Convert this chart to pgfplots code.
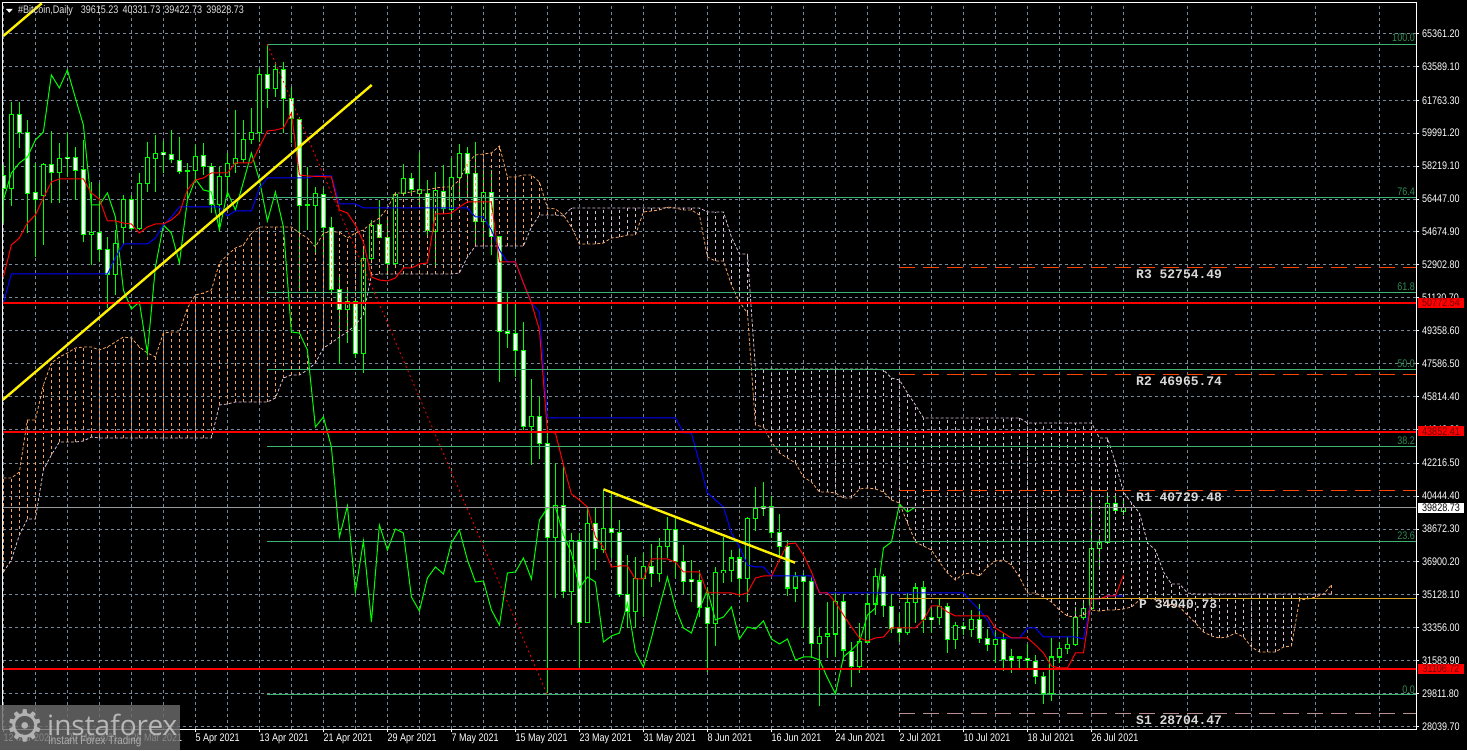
\documentclass[border=0pt]{standalone}
\usepackage{fontspec}
\usepackage{pgfplots}
\usepackage{pgfplotstable}
\pgfplotsset{compat=1.18}
\setmainfont[FakeStretch=0.82]{Liberation Sans}
\newfontfamily\pivotfont{Liberation Mono}
\newfontfamily\logofont{Open Sans}
\newfontfamily\symfont{DejaVu Sans}

\definecolor{lime}{RGB}{0,255,0}
\definecolor{gridc}{RGB}{119,136,153}
\definecolor{senkA}{RGB}{244,164,96}
\definecolor{senkB}{RGB}{216,191,216}
\definecolor{fibc}{RGB}{60,179,113}
\definecolor{fibt}{RGB}{46,139,87}
\definecolor{pivr}{RGB}{255,69,0}
\definecolor{pivp}{RGB}{218,165,32}
\definecolor{pivs}{RGB}{188,143,143}
\definecolor{tagt}{RGB}{110,0,0}

% candles: day open high low close
\pgfplotstableread{
d o h l c
1 57020 61689 56086 61007
5 56661 58367 53968 58313
7 57882 59445 56248 58636
11 54542 57379 52890 54650
14 52388 54775 51275 54057
15 54901 56661 53968 56427
17 54865 57828 54775 57289
18 57289 59534 56841 58690
19 58636 59893 56841 58906
23 57936 58403 56392 57990
24 57972 59354 57469 58726
27 56158 58187 54775 57667
28 57667 58906 56571 58331
29 58367 61240 57828 58636
30 58582 60702 58367 59660
31 59660 61330 59408 60037
32 60037 63484 59534 63162
34 62407 63844 61958 63431
38 56122 58187 54775 56158
39 56122 57110 53429 56751
43 50501 51543 48670 50915
45 48131 53788 47090 53249
46 53249 55314 53160 55045
49 52980 56841 52800 56697
50 56751 58331 56697 57559
52 56751 58942 56032 56948
54 54722 57882 52890 56894
56 55907 58636 55493 57595
57 57595 59390 56392 58906
60 55242 58008 54147 56787
66 44180 46749 42116 44718
69 38237 42224 34952 39923
71 35275 38453 33497 38038
73 33658 39800 33605 38938
75 37538 40769 37376 38722
79 34198 37160 33335 35975
80 35975 37376 33927 36622
82 36245 38184 35813 37699
83 37699 39315 37106 38668
89 33551 36621 32366 36298
90 36298 38237 35759 36406
91 36406 37537 35813 37106
93 35975 39315 34736 39207
94 39207 40931 38561 39746
99 35490 36352 34736 36083
102 32527 33335 29134 32851
103 32851 34736 31719 33012
104 33012 35275 31773 34736
107 31235 33605 30911 32581
108 32581 35221 32527 34628
109 34628 36567 34036 36083
113 33066 35221 32958 34682
114 34682 35760 33605 35490
117 33874 34951 33497 34467
119 32742 33659 32204 33443
121 33228 34305 32850 33767
124 32473 33120 31450 32742
127 31719 31826 31180 31773
131 29780 32796 29402 31773
132 31773 32581 31450 32204
133 32204 32850 31935 32420
134 32420 34467 32366 33874
135 33874 34736 33767 34359
136 34359 40392 34359 37591
137 37591 38345 36460 37968
138 37968 40662 37914 40016
140 39615.23 40331.73 39422.73 39828.73
}\candlesup

\pgfplotstableread{
d o h l c
0 57700 58280 55130 57020
2 61007 61689 59211 60037
3 60037 60702 54596 56751
4 56805 58367 53339 56427
6 58313 60109 56212 57882
8 58690 59983 57648 58618
9 58690 59265 56392 57990
10 58026 59624 54147 54542
12 54632 57290 53070 53734
13 53734 54416 50555 52388
16 56427 56661 54776 54865
20 58942 59570 57828 58834
21 58852 60163 58367 58582
22 58511 59804 57774 57936
25 58780 59445 57739 58205
26 58187 58367 55673 56158
33 63162 64742 61330 62407
35 63431 63844 59983 61868
36 61850 62461 59445 60791
37 60737 60881 51544 56122
40 56697 57020 53339 54901
41 54901 55493 51364 51579
42 51579 52351 47540 50501
44 50915 51005 47862 48131
47 55081 56392 54327 54381
48 54381 55314 52351 52980
51 57559 57864 56751 56966
53 56751 57469 54416 54722
55 56841 58277 55673 55907
58 58906 59265 56661 57828
59 57828 59534 53968 55242
61 56787 58008 53429 54452
62 54415 54415 46603 49297
63 49319 51452 48419 49211
64 49173 50789 46857 48258
65 48258 49820 44002 44163
67 44718 45780 42439 43301
68 43301 43840 29833 38237
70 39923 42116 34952 35275
72 38038 38453 31234 33658
74 38938 39800 36460 37591
76 38684 40662 37106 38453
77 38453 39153 35006 35113
78 35113 37268 33335 34198
81 36622 37861 35544 36245
84 38668 39261 36029 36944
85 36944 37807 35167 35814
86 35921 36999 34736 35814
87 35867 36459 33927 34413
88 34413 35544 30965 33551
92 37106 37699 35006 35975
95 39854 41200 39368 39746
96 39854 40446 38184 38453
97 38453 39477 37214 37699
98 37699 38076 35059 35490
100 36083 36298 33335 35814
101 35814 36083 31719 32527
105 34736 35167 31610 32150
106 32096 32581 30157 31235
110 36083 36244 33927 34521
111 34467 35167 33066 33335
112 33335 34144 32581 33066
115 35490 35868 33066 33767
116 33874 34413 33066 33767
118 34467 34682 31988 32742
120 33390 33659 32957 33282
122 33767 34628 32527 32796
123 32796 33281 32096 32473
125 32742 33066 31019 31665
126 31773 32205 30911 31611
128 31719 32473 31180 31611
129 31557 31880 30318 30696
130 30696 30965 29241 29780
139 40016 40500 39581 39638
}\candlesdown

% ichimoku cloud: day span A, span B
\pgfplotstableread{
d A B
0 41416 36352
1 41416 36999
2 41739 38346
3 44541 39207
4 44541 39207
5 46426 41847
6 47611 42655
7 47934 43355
8 48150 43355
9 48419 43355
10 48473 43409
11 48473 43625
12 48311 43571
13 48473 43571
14 48742 43571
15 49012 43571
16 48958 43571
17 48473 43571
18 48150 43571
19 47934 43571
20 49227 43571
21 49281 43571
22 49281 43571
23 50574 43571
24 51274 43571
25 51382 43571
26 51544 43571
27 52998 45349
28 53429 45403
29 53806 45510
30 53968 45510
31 54614 45510
32 54938 45510
33 54938 45510
34 54938 45726
35 54938 46803
36 54938 46965
37 54614 46965
38 54345 47234
39 53860 47611
40 54614 48419
41 54668 48689
42 54668 49012
43 54345 49281
44 54614 49658
45 54776 50197
46 55153 52352
47 55422 52406
48 55961 52406
49 56769 52406
50 56769 52406
51 56823 52406
52 56931 52406
53 56931 52406
54 57038 52406
55 57092 52406
56 57092 52406
57 57469 52459
58 58385 53321
59 58816 53914
60 58870 53914
61 58924 53914
62 59301 53914
63 57631 53914
64 57631 53914
65 57739 53914
66 57739 54938
67 57362 55584
68 55961 55584
69 55907 55584
70 55584 55530
71 54938 55961
72 54022 55961
73 54022 55961
74 54022 55961
75 54076 55961
76 54345 55961
77 54399 55961
78 54507 55961
79 54507 55961
80 55746 55961
81 55799 55961
82 55853 55961
83 56015 55961
84 55961 55961
85 55853 55961
86 55853 55961
87 55584 55961
88 53321 55746
89 53106 55746
90 53106 55746
91 51813 54399
92 50897 53483
93 50305 53483
94 44271 47288
95 44164 47288
96 43355 47288
97 42763 47288
98 42494 47288
99 42224 47288
100 41470 47288
101 41201 47288
102 40662 47288
103 40662 47288
104 40608 47288
105 40339 47288
106 40339 47288
107 40824 47288
108 40877 47288
109 40824 47288
110 40662 47234
111 40231 46803
112 40069 46695
113 38992 45995
114 37968 45349
115 37753 44648
116 37537 44648
117 36891 44648
118 36298 44648
119 35921 44648
120 36245 44648
121 36298 44648
122 36137 44648
123 36622 44648
124 36945 44648
125 36999 44648
126 36729 44648
127 36083 44648
128 35221 44379
129 35221 44379
130 35006 44379
131 34736 44379
132 34305 44379
133 33982 44379
134 33928 44379
135 34036 44379
136 34305 44379
137 34251 43571
138 34305 43571
139 34305 42224
140 34359 40662
141 34467 40069
142 34844 39531
143 34952 37915
144 34844 37537
145 34736 36352
146 34575 35706
147 34467 35706
148 34036 35221
149 33605 35167
150 33120 35167
151 32905 35167
152 32797 35167
153 32851 35167
154 33066 35167
155 32851 35167
156 32312 35167
157 32043 35167
158 32043 35167
159 32043 35167
160 32312 35167
161 32366 35167
162 34844 35167
163 34898 35167
164 35006 35167
165 35167 35167
166 35652 35167
}\cloud

\pgfplotstableread{
d k
0 50843
1 52406
13 52406
14 53268
15 54022
18 54022
19 54345
20 55045
21 55476
22 56015
27 56015
28 55530
29 55799
31 55799
32 57038
33 57577
38 57577
39 57685
41 57685
42 56177
44 56177
45 55961
58 55961
59 55476
60 55476
61 54776
62 53698
63 53052
64 53052
65 51921
66 50843
67 50359
68 44648
84 44648
85 43840
86 43840
87 42224
88 40608
89 40231
90 39854
91 38453
92 37699
93 36729
94 36622
95 36622
96 36137
101 36137
102 35221
120 35221
121 34736
122 34305
123 33766
124 32797
127 32797
128 33336
129 33336
130 32851
134 32851
135 32743
136 34898
137 34898
138 35059
140 35059
}\kijun

\pgfplotstableread{
d t
0 52244
1 53968
2 54345
3 55153
4 55584
5 56500
6 57362
7 57523
10 57523
11 56769
12 56446
13 55261
14 55261
15 55153
16 55099
17 54614
18 54938
19 55099
20 55099
21 55315
22 55692
23 56931
24 57469
25 57577
26 57846
28 57846
29 58385
31 58385
32 59247
33 60109
34 60163
35 60271
36 61079
37 57739
38 57685
41 57631
42 55853
43 55692
44 55045
45 54129
46 52244
47 52082
48 52029
49 52190
50 52729
51 52729
52 52944
53 52998
54 55638
55 55638
56 55692
57 56015
58 56284
61 56284
62 53052
64 53052
65 51921
66 50843
67 49389
68 43894
69 43840
70 42116
71 40554
72 40231
73 39854
74 38237
75 37699
76 36622
77 36676
78 36676
79 35975
80 35975
81 37053
83 37053
84 36891
85 36352
87 36352
88 35221
91 35221
92 35113
93 35221
94 36029
95 36137
96 36137
97 36999
98 37861
99 37915
100 37268
101 36352
102 35221
103 35221
104 34736
105 34036
106 33390
107 32797
108 32635
109 32797
110 32851
111 33336
114 33336
115 33766
116 34521
117 34521
118 34198
119 33982
123 33982
124 33336
125 33066
126 32797
128 32797
129 32420
130 31989
131 31289
132 31181
133 31181
134 31989
135 31989
136 34898
137 34898
138 35059
139 35059
140 36191
}\tenkan

\pgfplotstableread{
d s
0 56392
1 57846
2 58385
3 58708
4 59624
5 60055
6 63126
7 62425
8 63395
9 61887
10 60432
11 56123
12 56123
13 56769
14 55476
15 51544
16 50520
17 50897
18 48150
19 52783
20 55045
21 54614
22 52998
23 56392
24 57523
25 56931
26 56823
27 54776
28 56823
29 55853
30 57362
31 58924
32 57469
33 55261
34 56823
35 54938
36 49281
37 49227
38 48311
39 44164
40 44702
41 43086
42 38237
43 39908
44 35275
45 38022
46 33659
47 38884
48 37537
49 38669
50 38453
51 35006
52 34251
53 36029
54 36622
55 36245
56 37915
57 38615
58 36999
59 35814
60 35868
61 34305
62 33497
63 36298
64 36352
65 37107
66 35975
67 39154
68 39800
69 39854
70 38346
71 37376
72 35490
73 36083
74 35814
75 32581
76 32905
77 33066
78 34682
79 32043
80 31235
81 32797
82 34467
83 36083
84 34413
85 33336
86 33066
87 34359
88 35383
89 33766
90 33928
91 34467
92 32743
93 33390
94 33282
95 33713
96 32743
97 32474
98 32743
99 31612
100 31773
101 31773
102 31612
103 30642
104 29780
105 31773
106 32150
107 32581
108 34036
109 34413
110 37645
111 37968
112 40016
113 39585
114 39854
}\chikou

\pgfplotsset{
  segs/.style={draw=none, no markers, forget plot,
    error bars/y explicit, error bars/error mark=none},
}
% wick, outline, inner body of one candle table
\newcommand{\candles}[2]{%
  \addplot[segs, error bars/y dir=plus,
    error bars/error bar style={draw=lime, solid, line width=1pt}]
    table[x=d, y=l, y error expr={\thisrow{h}-\thisrow{l}}] {#1};
  \addplot[segs, error bars/y dir=both,
    error bars/error bar style={draw=lime, solid, line width=5pt}]
    table[x=d, y expr={(\thisrow{o}+\thisrow{c})/2},
      y error expr={abs(\thisrow{o}-\thisrow{c})/2+27}] {#1};
  \addplot[segs, error bars/y dir=both,
    error bars/error bar style={draw=#2, solid, line width=3pt}]
    table[x=d, y expr={(\thisrow{o}+\thisrow{c})/2},
      y error expr={max(abs(\thisrow{o}-\thisrow{c})/2-27,0)}] {#1};
}

\begin{document}
\begin{tikzpicture}[x=1pt,y=1pt,font=\fontsize{11}{12}\selectfont]
\useasboundingbox (0,0) rectangle (1467,750);
\fill[black] (0,0) rectangle (1467,750);
\begin{axis}[
    at={(2.5pt,20.7pt)}, anchor=south west,
    scale only axis, width=1413.8pt, height=726.8pt,
    xmin=-0.11, xmax=176.6, ymin=27878, ymax=67031,
    axis line style={white, line width=1pt},
    clip=true,
    xtick={0,8,...,136},
    xticklabels={12 Mar 2021,20 Mar 2021,28 Mar 2021,5 Apr 2021,13 Apr 2021,21 Apr 2021,29 Apr 2021,7 May 2021,15 May 2021,23 May 2021,31 May 2021,8 Jun 2021,16 Jun 2021,24 Jun 2021,2 Jul 2021,10 Jul 2021,18 Jul 2021,26 Jul 2021},
    minor xtick={4,12,...,172},
    ytick={65361.20,63589.10,61763.30,59991.20,58219.10,56447.00,54674.90,52902.80,51130.70,49358.60,47586.50,45814.40,44042.30,42216.50,40444.40,38672.30,36900.20,35128.10,33356.00,31583.90,29811.80,28039.70},
    yticklabels={65361.20,63589.10,61763.30,59991.20,58219.10,56447.00,54674.90,52902.80,51130.70,49358.60,47586.50,45814.40,44042.30,42216.50,40444.40,38672.30,36900.20,35128.10,33356.00,31583.90,29811.80,28039.70},
    xtick pos=bottom, ytick pos=right, yticklabel pos=right,
    tick align=outside, major tick length=3pt, minor tick length=0pt,
    tick style={white, line width=0.8pt},
    ticklabel style={white, font=\fontsize{11}{12}\selectfont},
    xticklabel style={anchor=north west, inner sep=0pt, yshift=-1.5pt},
    yticklabel style={anchor=west, inner sep=0pt, xshift=2.5pt},
    grid=major, xminorgrids=true,
    grid style={gridc, line width=0.8pt, dash pattern=on 3pt off 3pt},
    minor grid style={gridc, line width=0.8pt, dash pattern=on 3pt off 3pt},
]
\candles{\candlesup}{black}
\candles{\candlesdown}{white}

% cloud
\addplot[segs, error bars/y dir=plus,
  error bars/error bar style={draw=senkA, line width=0.8pt, dash pattern=on 3pt off 3pt}]
  table[x=d, y=B, y error expr={max(\thisrow{A}-\thisrow{B},0)}] {\cloud};
\addplot[segs, error bars/y dir=plus,
  error bars/error bar style={draw=senkB, line width=0.8pt, dash pattern=on 3pt off 3pt}]
  table[x=d, y=A, y error expr={max(\thisrow{B}-\thisrow{A},0)}] {\cloud};
\addplot[senkA, line width=0.8pt, dash pattern=on 3pt off 2pt, no markers] table[x=d, y=A] {\cloud};
\addplot[senkB, line width=0.8pt, dash pattern=on 3pt off 2pt, no markers] table[x=d, y=B] {\cloud};

% ichimoku lines
\addplot[lime, line width=1pt, no markers] table[x=d, y=s] {\chikou};
\addplot[blue, line width=1pt, no markers] table[x=d, y=k] {\kijun};
\addplot[red, line width=1pt, no markers] table[x=d, y=t] {\tenkan};

% fibonacci levels and their base line
\addplot[fibc, line width=1pt, no markers, forget plot, unbounded coords=jump] coordinates {
  (33,64780) (176.6,64780) (nan,nan)
  (33,56516) (176.6,56516) (nan,nan)
  (33,51398) (176.6,51398) (nan,nan)
  (33,47272) (176.6,47272) (nan,nan)
  (33,43102) (176.6,43102) (nan,nan)
  (33,38006) (176.6,38006) (nan,nan)
  (33,29726) (176.6,29726)
};
\addplot[red, line width=0.8pt, dash pattern=on 2pt off 3pt, no markers] coordinates {(33,64780) (68,29726)};

% pivot levels
\addplot[pivr, line width=1pt, dash pattern=on 16pt off 8pt, no markers, unbounded coords=jump] coordinates {
  (112,52754.49) (176.6,52754.49) (nan,nan)
  (112,46965.74) (176.6,46965.74) (nan,nan)
  (112,40729.48) (176.6,40729.48)
};
\addplot[pivp, line width=1pt, no markers] coordinates {(112,34940.73) (176.6,34940.73)};
\addplot[pivs, line width=1pt, dash pattern=on 16pt off 8pt, no markers] coordinates {(112,28704.47) (176.6,28704.47)};

% current price
\addplot[gray!80!white, line width=1pt, no markers] coordinates {(-0.11,39828.73) (176.6,39828.73)};

% horizontal levels
\addplot[red, line width=2.2pt, no markers, unbounded coords=jump] coordinates {
  (-0.11,50859) (176.6,50859) (nan,nan)
  (-0.11,43910) (176.6,43910) (nan,nan)
  (-0.11,31143) (176.6,31143)
};

% trend lines
\addplot[yellow, line width=2.4pt, no markers, unbounded coords=jump] coordinates {
  (-0.01,65227) (4.8,66988) (nan,nan)
  (-0.09,45618) (46.04,62587) (nan,nan)
  (75,40807) (98.95,36853)
};
\end{axis}

% header
\fill[white] (6,741) -- (12.7,741) -- (9.3,737.3) -- cycle;
\node[anchor=west, inner sep=0pt, text=white!88!black] at (18,739.5)
  {\#Bitcoin,Daily\hspace{8pt}39615.23\hspace{1.7pt} 40331.73\hspace{1.7pt} 39422.73\hspace{1.7pt} 39828.73};

% fibo level names
\foreach \t/\y in {100.0/712, 76.4/558, 61.8/463, 50.0/386, 38.2/309, 23.6/214, 0.0/60}
  \node[anchor=east, inner sep=0pt, text=fibt] at (1415,\y) {\t};

% pivot names
\begin{scope}[every node/.style={anchor=west, inner sep=0pt, text=white!85!black,
    font=\pivotfont\bfseries\fontsize{13}{14}\selectfont}]
  \node at (1136,475.5) {R3 52754.49};
  \node at (1136,369) {R2 46965.74};
  \node at (1136,252.5) {R1 40729.48};
  \node at (1139,146) {P 34940.73};
  \node at (1136,29.5) {S1 28704.47};
\end{scope}

% price tags
\foreach \y/\t in {447.3/50772.54, 318.5/43852.41, 81.3/31106.72} {
  \fill[red] (1418,\y-5) rectangle (1464,\y+5);
  \node[text=tagt, inner sep=0pt] at (1441,\y) {\t};
}
\fill[white] (1418,237.3) rectangle (1464,247.3);
\node[text=black, inner sep=0pt] at (1441,242.3) {39828.73};

% watermark
\fill[gray!85!black, opacity=0.82] (0,0) rectangle (180,45);
\node[text=white!70!black, inner sep=0pt] at (25,24) {\symfont\fontsize{44}{44}\selectfont ⚙};
\node[anchor=west, inner sep=0pt, text=white!72!black] at (47,25)
  {\logofont\fontsize{28}{28}\selectfont instaforex};
\node[anchor=west, inner sep=0pt, text=white!68!black] at (48,9)
  {\fontsize{12}{12}\selectfont Instant Forex Trading};
\end{tikzpicture}
\end{document}
